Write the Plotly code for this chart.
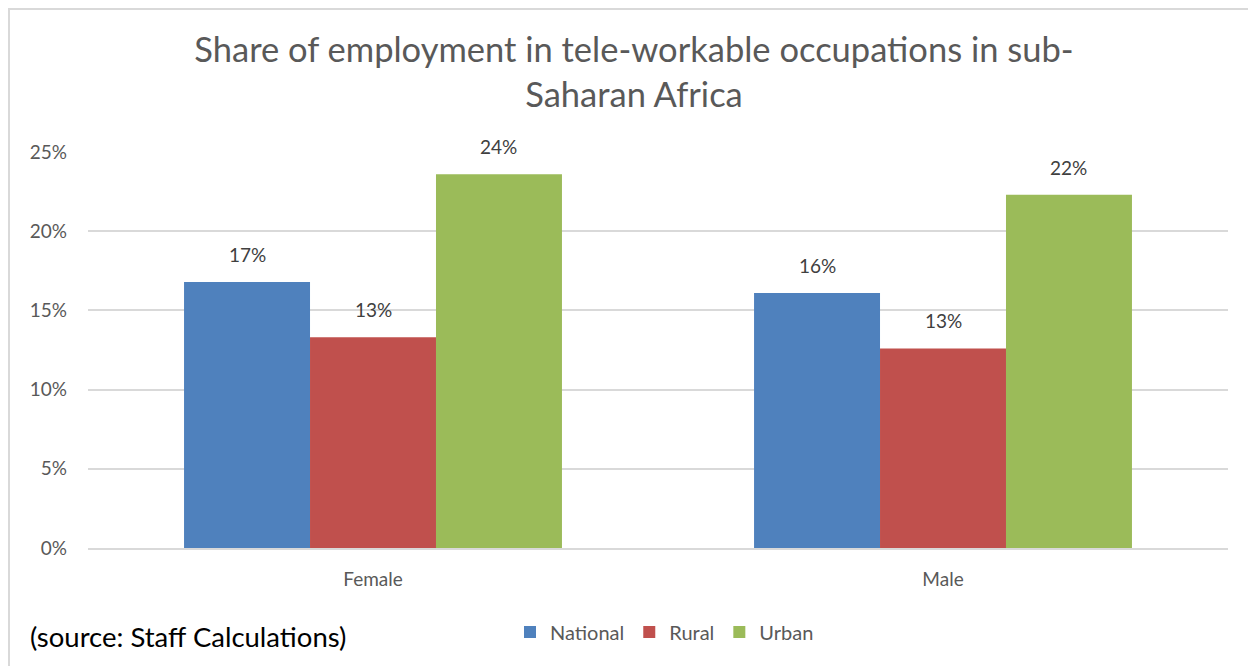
import plotly.graph_objects as go

categories = ["Female", "Male"]
series_names = ["National", "Rural", "Urban"]
national = [0.168, 0.161]
rural = [0.133, 0.126]
urban = [0.236, 0.223]
colors = ["#4F81BD", "#C0504D", "#9BBB59"]

FONT = "Lato, 'Open Sans', sans-serif"
BARGAP = 0.337
n_series = len(series_names)
bar_w = (1 - BARGAP) / n_series

W, H = 1248, 658          # page body has an 8px margin
L, T, PW, PH = 80, 144, 1140, 396

fig = go.Figure()
for i, (name, vals, col) in enumerate(zip(series_names, [national, rural, urban], colors)):
    fig.add_trace(go.Bar(
        name=name, x=list(range(len(categories))), y=vals,
        marker=dict(color=col, line=dict(width=0)),
    ))
    for j, v in enumerate(vals):
        fig.add_annotation(
            x=j + (i - (n_series - 1) / 2) * bar_w, y=v, xref="x", yref="y",
            text=f"{v*100:.0f}%", showarrow=False, yanchor="bottom", yshift=14,
            font=dict(size=19, color="#404040", family=FONT),
        )

fig.update_layout(
    width=W, height=H,
    paper_bgcolor="white", plot_bgcolor="white",
    margin=dict(l=L, r=W - L - PW, t=T, b=H - T - PH, autoexpand=False),
    barmode="group", bargap=BARGAP, bargroupgap=0,
    font=dict(family=FONT, color="#595959"),
    title=dict(text="Share of employment in tele-workable occupations in sub-<br>Saharan Africa",
               x=626 / W, xanchor="center", xref="container",
               y=1 - 54 / H, yanchor="top", yref="container",
               font=dict(size=34.5, color="#595959", family=FONT)),
    yaxis=dict(range=[0, 0.25], tickvals=[0, 0.05, 0.10, 0.15, 0.20, 0.25],
               ticktext=["0%", "5%", "10%", "15%", "20%", "25%"],
               showgrid=True, gridcolor="#D9D9D9", gridwidth=1.5, zeroline=False,
               ticks="", ticklabelstandoff=20, automargin=False,
               tickfont=dict(size=19, color="#595959", family=FONT)),
    xaxis=dict(range=[-0.5, len(categories) - 0.5],
               tickvals=list(range(len(categories))), ticktext=categories,
               showline=True, linecolor="#D9D9D9", linewidth=1.5, ticks="",
               ticklabelstandoff=13, automargin=False,
               tickfont=dict(size=19, color="#595959", family=FONT)),
    legend=dict(orientation="h", x=(502 - L) / PW, xanchor="left",
                y=1 - 624 / H, yanchor="middle", yref="container",
                font=dict(size=20, color="#595959", family=FONT),
                itemwidth=30, tracegroupgap=0),
    showlegend=True,
)

fig.add_annotation(text="(source: Staff Calculations)", xref="paper", yref="paper",
                   x=(20 - L) / PW, y=(T + PH - 628) / PH, xanchor="left", yanchor="middle",
                   showarrow=False,
                   font=dict(size=27.5, color="black", family=FONT))

fig.add_shape(type="rect", xref="paper", yref="paper",
              x0=(1 - L) / PW, x1=(W + 20 - L) / PW,
              y0=(T + PH - H - 20) / PH, y1=(T + PH - 1) / PH,
              line=dict(color="#D9D9D9", width=2), fillcolor="rgba(0,0,0,0)", layer="below")

fig.write_html("out.html")
